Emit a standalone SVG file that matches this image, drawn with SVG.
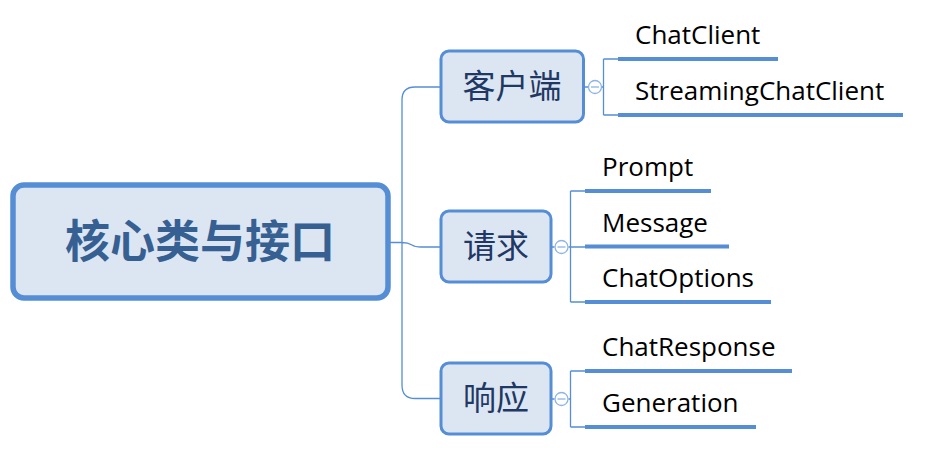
<svg xmlns="http://www.w3.org/2000/svg" width="928" height="465" viewBox="0 0 928 465">
<style>
.box{fill:#dce6f2;stroke:#558ed5;stroke-width:3}
.root{fill:#dce6f2;stroke:#558ed5;stroke-width:5.5}
.conn{fill:none;stroke:#558ed5;stroke-width:1.3}
.ul{stroke:#558ed5;stroke-width:4;fill:none}
.tog{fill:#ffffff;stroke:#8eb4e3;stroke-width:1.3}
.togm{stroke:#8eb4e3;stroke-width:1.3}
.cn{font-family:"Noto Sans CJK SC","Noto Sans",sans-serif;font-size:33px;fill:#1f3864;text-anchor:middle}
.rt{font-family:"Noto Sans CJK SC","Noto Sans",sans-serif;font-size:45px;font-weight:700;fill:#376092;text-anchor:middle}
.en{font-family:"Open Sans","Noto Sans",sans-serif;font-size:26px;fill:#000000}
</style>
<rect width="928" height="465" fill="#ffffff"/>
<g id="connectors">
<path class="conn" d="M389 242.5 H402 M402 100 Q402 87 415 87 H441 M402 100 V385 Q402 398.5 415 398.5 H441 M402 242.5 Q408 242.5 412 245 Q415 247 421 247 H441"/>
<path class="conn" d="M584 87 H588 M602 87 H603.5 M603.5 59 V115 M603.5 59 H618 M603.5 115 H618"/>
<path class="conn" d="M552 247 H554.5 M568.5 247 H585 M570.5 191 V302 M570.5 191 H585 M570.5 302 H585"/>
<path class="conn" d="M552 399 H554.5 M568.5 399 H570.5 M570.5 371 V427 M570.5 371 H585 M570.5 427 H585"/>
</g>
<g id="root">
<rect class="root" x="13" y="185" width="375" height="113" rx="11"/>
<text class="rt" x="200" y="258">核心类与接口</text>
</g>
<g id="n-client">
<rect class="box" x="441" y="51" width="142.5" height="71" rx="8"/>
<text class="cn" x="512" y="98">客户端</text>
<circle class="tog" cx="595" cy="87" r="6.5"/>
<line class="togm" x1="591" y1="87" x2="599" y2="87"/>
</g>
<g id="n-request">
<rect class="box" x="441" y="211" width="110" height="71" rx="8"/>
<text class="cn" x="496" y="258">请求</text>
<circle class="tog" cx="561.5" cy="247" r="6.5"/>
<line class="togm" x1="557.5" y1="247" x2="565.5" y2="247"/>
</g>
<g id="n-response">
<rect class="box" x="441" y="363" width="110" height="71" rx="8"/>
<text class="cn" x="496" y="410">响应</text>
<circle class="tog" cx="561.5" cy="399" r="6.5"/>
<line class="togm" x1="557.5" y1="399" x2="565.5" y2="399"/>
</g>
<g id="l-chatclient">
<line class="ul" x1="618" y1="59" x2="778" y2="59"/>
<text class="en" x="635" y="44">ChatClient</text>
</g>
<g id="l-streaming">
<line class="ul" x1="618" y1="115" x2="903" y2="115"/>
<text class="en" x="635" y="100">StreamingChatClient</text>
</g>
<g id="l-prompt">
<line class="ul" x1="585" y1="191" x2="711" y2="191"/>
<text class="en" x="602" y="176">Prompt</text>
</g>
<g id="l-message">
<line class="ul" x1="585" y1="246.5" x2="729" y2="246.5"/>
<text class="en" x="602" y="231.5">Message</text>
</g>
<g id="l-chatoptions">
<line class="ul" x1="585" y1="302" x2="771" y2="302"/>
<text class="en" x="602" y="287">ChatOptions</text>
</g>
<g id="l-chatresponse">
<line class="ul" x1="585" y1="371" x2="792" y2="371"/>
<text class="en" x="602" y="356">ChatResponse</text>
</g>
<g id="l-generation">
<line class="ul" x1="585" y1="427" x2="756" y2="427"/>
<text class="en" x="602" y="412">Generation</text>
</g>
</svg>
